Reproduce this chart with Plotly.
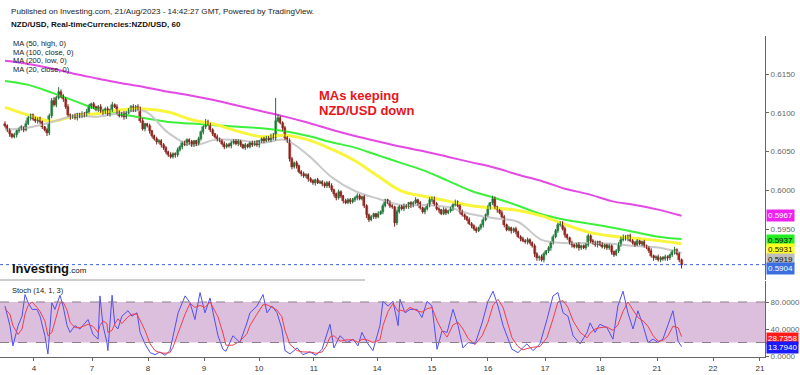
import plotly.graph_objects as go

# ---------------- data (prices in pips, 1 pip = 0.0001) ----------------
closes_pips = [
    6083, 6078, 6072, 6069, 6071, 6076, 6079, 6081, 6078, 6086, 6093, 6097, 6092, 6089, 6093, 6088,
    6082, 6078, 6074, 6096, 6115, 6110, 6119, 6127, 6122, 6118, 6108, 6097, 6094, 6096, 6093, 6098,
    6095, 6099, 6097, 6101, 6108, 6111, 6107, 6104, 6108, 6102, 6100, 6105, 6098, 6103, 6110, 6108,
    6101, 6096, 6099, 6094, 6100, 6104, 6107, 6103, 6108, 6106, 6090, 6079, 6085, 6083, 6076, 6070,
    6066, 6062, 6064, 6058, 6055, 6049, 6046, 6043, 6047, 6045, 6052, 6056, 6061, 6059, 6065, 6062,
    6058, 6063, 6060, 6066, 6075, 6081, 6088, 6085, 6078, 6072, 6069, 6066, 6064, 6060, 6056, 6059,
    6057, 6061, 6064, 6060, 6063, 6058, 6055, 6058, 6056, 6061, 6059, 6062, 6058, 6063, 6066, 6064,
    6068, 6065, 6070, 6067, 6090, 6093, 6087, 6080, 6068, 6063, 6040, 6030, 6035, 6031, 6024, 6021,
    6018, 6020, 6014, 6012, 6009, 6013, 6010, 6011, 6008, 6005, 6010, 6006, 6000, 5995, 5990, 5998,
    5992, 5986, 5984, 5988, 5985, 5987, 5990, 5993, 5989, 5991, 5980, 5968, 5962, 5965, 5969, 5966,
    5970, 5972, 5980, 5987, 5984, 5980, 5978, 5958, 5972, 5979, 5976, 5980, 5978, 5983, 5980, 5984,
    5987, 5983, 5977, 5972, 5976, 5980, 5988, 5990, 5982, 5976, 5974, 5970, 5975, 5971, 5973, 5976,
    5981, 5985, 5980, 5972, 5968, 5965, 5962, 5957, 5954, 5950, 5948, 5951, 5955, 5962, 5968, 5978,
    5983, 5989, 5978, 5974, 5971, 5966, 5955, 5949, 5951, 5947, 5950, 5946, 5940, 5937, 5935, 5933,
    5936, 5932, 5928, 5918, 5912, 5914, 5910, 5918, 5921, 5925, 5932, 5940, 5948, 5955, 5958, 5950,
    5942, 5938, 5932, 5929, 5927, 5930, 5925, 5928, 5926, 5929, 5941, 5935, 5932, 5929, 5933, 5930,
    5927, 5929, 5925, 5928, 5920, 5917, 5921, 5930, 5936, 5940, 5937, 5941, 5935, 5932, 5930, 5934,
    5931, 5933, 5928, 5926, 5922, 5915, 5912, 5914, 5910, 5913, 5911, 5914, 5912, 5916, 5920, 5923,
    5918, 5910, 5904,
]
first_open_pips = 6086
upper_wick_pips = [
    3,2,2,1,3,2,2,3,1,4, 3,2,2,3,1,2,2,1,2,3, 4,5,3,6,3,2,2,3,2,2, 3,2,2,3,2,4,3,2,3,2,
    2,3,2,2,3,2,4,2,3,2, 2,3,2,2,3,4,2,3,2,3, 2,2,3,2,2,3,2,2,3,2, 2,3,2,2,3,2,2,3,2,2,
    3,2,2,3,2,3,4,3,2,2, 2,3,2,2,3,2,2,3,2,2, 3,2,2,3,2,2,3,2,3,2, 2,3,2,2,3,4,29,5,3,2,
    3,2,4,3,2,3,2,2,3,2, 2,3,2,2,3,2,2,3,2,2, 3,2,2,3,2,2,3,2,2,3, 2,3,2,2,3,2,2,3,2,2,
    3,2,3,2,2,3,2,2,3,2, 2,3,2,2,3,2,4,2,3,2, 2,3,3,2,2,3,2,2,3,2, 2,3,2,3,2,2,3,2,2,3,
    2,2,3,2,2,3,2,3,2,4, 3,2,2,3,2,2,3,2,2,3, 2,2,3,2,3,2,2,3,2,2, 3,2,2,3,2,3,2,3,2,2,
    3,2,2,3,2,2,3,2,2,3, 3,2,2,3,2,2,3,2,2,3, 2,2,3,3,4,3,2,2,3,2, 2,3,2,2,3,2,2,3,2,2,
    3,2,2,3,2,2,3,4,2,2, 2,
]
lower_wick_pips = [
    2,3,3,2,2,3,2,2,3,2, 2,3,2,2,3,2,3,2,4,3, 3,2,3,2,3,4,3,2,3,2, 2,3,2,2,3,2,2,3,2,2,
    3,2,3,2,2,3,2,2,3,2, 2,3,2,2,3,2,2,3,3,2, 3,2,3,2,2,3,2,3,3,2, 3,2,2,3,2,2,3,2,2,3,
    2,2,3,2,2,3,2,2,3,2, 2,3,2,2,3,2,2,3,2,2, 3,2,2,3,2,2,3,2,2,3, 2,3,2,2,3,2,3,2,2,3,
    3,2,3,3,2,3,2,3,2,2, 3,2,2,3,2,2,3,2,2,3, 2,3,3,2,2,3,2,2,3,2, 2,3,2,2,3,4,3,2,2,3,
    2,2,3,2,2,3,2,5,3,2, 2,3,2,2,3,2,2,3,2,2, 3,2,2,3,2,2,3,2,2,3, 2,2,3,2,2,3,2,3,2,2,
    3,2,3,2,2,3,2,2,3,2, 2,3,2,2,3,2,2,3,2,3, 2,3,2,2,3,2,2,4,3,3, 2,3,2,2,3,2,2,3,2,2,
    3,2,2,3,2,2,3,2,2,3, 2,3,2,2,3,2,2,3,2,2, 3,3,2,2,3,2,2,3,2,2, 3,2,2,3,2,2,3,2,3,2,
    2,3,2,2,3,2,2,3,2,3, 5,
]

# moving averages, read at every 10th bar
ma_idx = [0, 10, 20, 30, 40, 50, 60, 70, 80, 90, 100, 110, 120, 130, 140, 150, 160, 170, 180, 190,
          200, 210, 220, 230, 240, 250, 260, 270, 280, 290]
ma200_low = [0.6167, 0.6163, 0.6157, 0.6150, 0.6144, 0.6138, 0.6133, 0.6127, 0.6122, 0.6116,
             0.6109, 0.6102, 0.6095, 0.6087, 0.6078, 0.6070, 0.6063, 0.6056, 0.6050, 0.6043,
             0.6036, 0.6029, 0.6020, 0.6012, 0.6002, 0.5995, 0.5986, 0.5981, 0.5975, 0.5967]
ma100_close = [0.6141, 0.6136, 0.6126, 0.6115, 0.6104, 0.6098, 0.6093, 0.6088, 0.6086, 0.6084,
               0.6082, 0.6080, 0.6076, 0.6070, 0.6062, 0.6055, 0.6045, 0.6035, 0.6025, 0.6012,
               0.5999, 0.5990, 0.5980, 0.5969, 0.5962, 0.5957, 0.5952, 0.5946, 0.5940, 0.5937]
ma50_high = [0.6107, 0.6097, 0.6089, 0.6096, 0.6099, 0.6104, 0.6105, 0.6101, 0.6091, 0.6085,
             0.6076, 0.6069, 0.6071, 0.6065, 0.6053, 0.6038, 0.6018, 0.5999, 0.5992, 0.5986,
             0.5980, 0.5977, 0.5974, 0.5967, 0.5956, 0.5946, 0.5941, 0.5938, 0.5935, 0.5931]
ma20_close = [0.6078, 0.6081, 0.6088, 0.6096, 0.6095, 0.6100, 0.6102, 0.6074, 0.6058, 0.6065,
              0.6065, 0.6061, 0.6065, 0.6045, 0.6017, 0.5999, 0.5989, 0.5981, 0.5981, 0.5978,
              0.5969, 0.5964, 0.5959, 0.5936, 0.5932, 0.5932, 0.5931, 0.5928, 0.5926, 0.5919]

# stochastic (14, 1, 3)
stoch_idx = [0, 2.1, 3.4, 5.6, 7.3, 8.6, 9.9, 11.6, 13.7, 15, 17.1, 18.4, 20.1, 21.4, 23.6, 24.9,
             26.6, 27.9, 30, 32.1, 35.6, 37.7, 39.9, 40.7, 42, 43.7, 44.1, 45.9, 47.1, 48.4, 50.1,
             52.7, 54.4, 56.6, 57.9, 60, 62.2, 64.3, 66.4, 68.6, 70.7, 72, 74.2, 77.2, 79.3, 81.4,
             83.6, 85.7, 87.9, 89.2, 91.3, 93.4, 94.7, 97.7, 100.7, 103.7, 105, 108, 110.6, 112.3,
             114.4, 116.6, 118.7, 120, 122.2, 125.2, 127.7, 130.7, 133.3, 135.9, 137.6, 139.3, 141,
             142.3, 143.6, 146.6, 149.2, 151.3, 153, 155.2, 157.7, 160.7, 162, 164.2, 166.3, 168.5,
             169.3, 171.5, 173.6, 176.6, 178.7, 180.9, 183, 185.2, 187.3, 189.5, 192, 194.2, 196.3,
             198.5, 201.5, 204.5, 207, 209.2, 211.3, 213.5, 215.6, 217.3, 219.9, 222, 223.7, 226.3,
             229.3, 232.3, 234.9, 237, 239.2, 241.3, 243.5, 246.5, 249.5, 250.8, 252.9, 255, 258,
             260.6, 262.7, 264.9, 267, 269.2, 271.3, 273.5, 275.6, 277.8, 279.9, 282, 284.2, 286.3,
             288.5, 290]
stoch_k = [74, 45, 15, 45, 59, 91, 79, 69, 69, 59, 30, 3, 79, 69, 90, 74, 45, 35, 45, 40, 54, 32, 25,
           89, 45, 20, 8, 90, 45, 40, 59, 67, 59, 64, 35, 18, 5, 2, 6, 1, 8, 30, 64, 89, 79, 54, 94,
           64, 86, 64, 30, 10, 7, 30, 20, 49, 64, 74, 91, 64, 74, 64, 40, 8, 3, 12, 2, 6, 1, 10, 30,
           47, 12, 20, 30, 20, 25, 15, 35, 20, 8, 45, 81, 74, 81, 45, 84, 64, 69, 69, 57, 81, 74, 10,
           37, 35, 69, 45, 12, 20, 18, 49, 81, 96, 74, 45, 25, 10, 5, 12, 18, 8, 18, 54, 89, 94, 64,
           59, 30, 18, 35, 49, 35, 47, 42, 25, 74, 96, 64, 40, 67, 45, 20, 25, 20, 25, 45, 67, 22,
           13.794]
stoch_d = [70, 62, 45, 32, 40, 62, 75, 80, 72, 66, 52, 30, 35, 52, 78, 80, 68, 50, 42, 42, 47, 44, 35,
           45, 52, 48, 35, 38, 48, 55, 48, 58, 62, 62, 52, 38, 18, 8, 5, 4, 5, 13, 34, 62, 78, 72, 75,
           72, 80, 72, 58, 34, 16, 16, 22, 33, 45, 62, 76, 76, 72, 68, 58, 38, 17, 8, 6, 6, 4, 6, 14,
           28, 30, 26, 22, 24, 24, 20, 25, 24, 20, 24, 45, 66, 78, 66, 68, 66, 72, 67, 65, 70, 72, 52,
           38, 28, 46, 50, 40, 26, 17, 30, 50, 75, 84, 72, 48, 27, 14, 9, 11, 13, 14, 27, 55, 80, 82,
           72, 52, 35, 27, 34, 40, 42, 43, 38, 46, 66, 80, 68, 57, 52, 44, 30, 22, 23, 30, 44, 42,
           28.7358]

# x-axis day labels (bar index of each day's first bar)
day_idx = [12.4, 37.3, 61.3, 85.3, 108.9, 132.4, 159.5, 183.0, 207.0, 231.5, 255.1, 279.5, 303.5, 323.6]
day_labels = ["4", "7", "8", "9", "10", "11", "14", "15", "16", "17", "18", "21", "22", "21"]

last_price = 0.5904

# ---------------- build OHLC ----------------
PIP = 0.0001
n = len(closes_pips)
opens_pips = [first_open_pips] + closes_pips[:-1]
highs_pips = [max(o, c) + u for o, c, u in zip(opens_pips, closes_pips, upper_wick_pips)]
lows_pips = [min(o, c) - l for o, c, l in zip(opens_pips, closes_pips, lower_wick_pips)]
bar_idx = list(range(n))

UP_BODY, UP_WICK = "#2f9a4c", "#1f6e37"
DN_BODY, DN_WICK = "#c2392c", "#7e1f1a"

# ---------------- geometry helpers (layout only) ----------------
W, H = 800, 375
PLOT_R = 765
PLOT_B = 357


def px(x):
    return x / PLOT_R


def py(y):
    return (PLOT_B - y) / PLOT_B


FONT = "Liberation Sans, Arial, sans-serif"

fig = go.Figure()

for vals, col, w in [(ma200_low, "#e449e4", 2), (ma100_close, "#3cf03c", 2),
                     (ma50_high, "#f8f53a", 3), (ma20_close, "#c9c9c9", 2)]:
    fig.add_trace(go.Scatter(x=ma_idx, y=vals, mode="lines", line=dict(color=col, width=w, shape="spline"),
                             hoverinfo="skip", xaxis="x", yaxis="y"))

# candles: wicks as line segments, bodies as bars with base
for up in (True, False):
    sel = [i for i in bar_idx if (closes_pips[i] >= opens_pips[i]) == up]
    wx, wy = [], []
    for i in sel:
        wx += [i, i, None]
        wy += [lows_pips[i] * PIP, highs_pips[i] * PIP, None]
    fig.add_trace(go.Scatter(x=wx, y=wy, mode="lines", line=dict(color=UP_WICK if up else DN_WICK, width=1),
                             hoverinfo="skip", xaxis="x", yaxis="y"))
    base = [min(opens_pips[i], closes_pips[i]) * PIP for i in sel]
    height = [max(abs(closes_pips[i] - opens_pips[i]), 0.4) * PIP for i in sel]
    fig.add_trace(go.Bar(x=sel, y=height, base=base, width=0.8,
                         marker=dict(color=UP_BODY if up else DN_BODY,
                                     line=dict(color=UP_WICK if up else DN_WICK, width=0.5)),
                         hoverinfo="skip", xaxis="x", yaxis="y"))

fig.add_trace(go.Scatter(x=stoch_idx, y=stoch_k, mode="lines", line=dict(color="#4f4ff5", width=1),
                         xaxis="x", yaxis="y2", hoverinfo="skip"))
fig.add_trace(go.Scatter(x=stoch_idx, y=stoch_d, mode="lines", line=dict(color="#f0404a", width=1),
                         xaxis="x", yaxis="y2", hoverinfo="skip"))

x_lo = -5 / 2.333
x_hi = 760 / 2.333

shapes = [
    # stochastic band
    dict(type="rect", xref="paper", yref="y2", x0=0, x1=1, y0=20, y1=80,
         fillcolor="#dcbedd", line=dict(width=0), layer="below"),
    dict(type="line", xref="paper", yref="y2", x0=0, x1=1, y0=80, y1=80,
         line=dict(color="#8a7f8a", width=1, dash="dash")),
    dict(type="line", xref="paper", yref="y2", x0=0, x1=1, y0=20, y1=20,
         line=dict(color="#8a7f8a", width=1, dash="dash")),
    # last price line
    dict(type="line", xref="paper", yref="y", x0=0, x1=1, y0=last_price, y1=last_price,
         line=dict(color="#3b5fe0", width=1, dash="dot")),
    # pane separator
    dict(type="line", xref="paper", yref="paper", x0=0, x1=px(365), y0=py(280), y1=py(280),
         line=dict(color="#9a9a9a", width=1)),
]

annotations = []


def text(x, y, s, size, color="#222", bold=False):
    annotations.append(dict(xref="paper", yref="paper", x=px(x), y=py(y), xanchor="left", yanchor="middle",
                            text=("<b>%s</b>" % s) if bold else s, showarrow=False,
                            font=dict(family=FONT, size=size, color=color)))


text(9, 12, "Published on Investing.com, 21/Aug/2023 - 14:42:27 GMT, Powered by TradingView.", 8.1)
text(9, 25, "NZD/USD, Real-timeCurrencies:NZD/USD, 60", 8, "#111", True)
text(11, 43, "MA (50, high, 0)", 7.5)
text(11, 52, "MA (100, close, 0)", 7.5)
text(11, 61, "MA (200, low, 0)", 7.5)
text(11, 70, "MA (20, close, 0)", 7.5)
text(317, 95, "MAs keeping", 13, "#e8141b", True)
text(317, 110, "NZD/USD down", 13, "#e8141b", True)
text(10, 268, "<b>Investing</b><span style='font-size:8px'>.com</span>", 13, "#111")
text(10, 290, "Stoch (14, 1, 3)", 7.5)


def tag(yref, val, label, bg, fg, yshift=0):
    annotations.append(dict(xref="paper", yref=yref, x=1, y=val, xanchor="left", yanchor="middle",
                            xshift=1, yshift=yshift, text=label, showarrow=False, bgcolor=bg,
                            borderpad=1, font=dict(family=FONT, size=8, color=fg)))


tag("y", ma200_low[-1], "%.4f" % ma200_low[-1], "#ee22ee", "white")
tag("y", ma100_close[-1], "%.4f" % ma100_close[-1], "#22ee22", "#111", -1)
tag("y", ma50_high[-1], "%.4f" % ma50_high[-1], "#ffff22", "#111", -6)
tag("y", ma20_close[-1], "%.4f" % ma20_close[-1], "#bdbdbd", "#111", -6)
tag("y", last_price, "%.4f" % last_price, "#3b6fe0", "white", -4)
tag("y2", stoch_d[-1], "%.4f" % stoch_d[-1], "#ff1a1a", "white", -2)
tag("y2", stoch_k[-1], "%.4f" % stoch_k[-1], "#1a1aff", "white", -1)

# price range mapping: 0.6150 at y=74 px, 0.0050 per 38.75 px
ppx = 0.005 / 38.75
main_top, main_bot = 36, 280
y_hi = 0.6150 + (74 - main_top) * ppx
y_lo = 0.6150 - (main_bot - 74) * ppx
spx = 80 / 54.0
st_hi = (356 - 281) * spx
st_lo = -(PLOT_B - 356) * spx

fig.update_layout(
    width=W, height=H, margin=dict(l=0, r=W - PLOT_R, t=0, b=H - PLOT_B),
    paper_bgcolor="white", plot_bgcolor="white", showlegend=False, barmode="overlay", bargap=0,
    shapes=shapes, annotations=annotations,
    xaxis=dict(range=[x_lo, x_hi], tickvals=day_idx, ticktext=day_labels, showgrid=False, zeroline=False,
               showline=True, linecolor="#666", linewidth=1, ticks="outside", ticklen=3, tickcolor="#666",
               tickfont=dict(family=FONT, size=8, color="#333"), anchor="y2", fixedrange=True),
    yaxis=dict(domain=[py(main_bot), py(main_top)], range=[y_lo, y_hi], side="right", anchor="x",
               tickvals=[0.5950, 0.6000, 0.6050, 0.6100, 0.6150], tickformat=".4f",
               showgrid=False, zeroline=False, showline=True, linecolor="#666", linewidth=1,
               ticks="outside", ticklen=3, tickcolor="#666", automargin=False,
               tickfont=dict(family=FONT, size=8, color="#666")),
    yaxis2=dict(domain=[0, py(281)], range=[st_lo, st_hi], side="right", anchor="x",
                tickvals=[0, 40, 80], tickformat=".4f", showgrid=False, zeroline=False, showline=True,
                linecolor="#666", linewidth=1, ticks="outside", ticklen=3, tickcolor="#666",
                automargin=False, tickfont=dict(family=FONT, size=8, color="#666")),
)

fig.write_html("out.html", config={"displayModeBar": False},
               post_script="document.body.style.margin='0';document.body.style.padding='0';"
                           "document.body.style.overflow='hidden';")
